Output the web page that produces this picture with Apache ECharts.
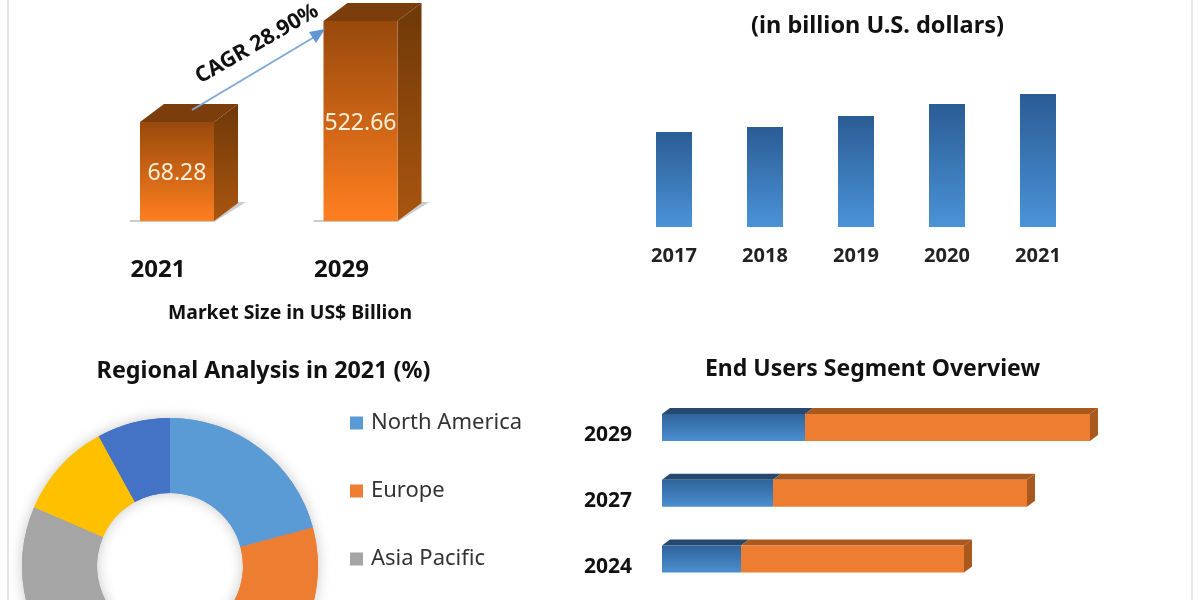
<!DOCTYPE html>
<html>
<head>
<meta charset="utf-8">
<script src="https://cdn.jsdelivr.net/npm/echarts@6/dist/echarts.min.js"></script>
<style>html,body{margin:0;padding:0;background:#fff;overflow:hidden}#c{width:1200px;height:600px}</style>
</head>
<body>
<div id="c"></div>
<script>
var FONT = '"Noto Sans","Open Sans",sans-serif';
var marketYears = ['2021', '2029'];
var marketValues = [68.28, 522.66];
var trendYears = ['2017', '2018', '2019', '2020', '2021'];
var trendValues = [95, 100, 111, 123, 133];
var regionNames = ['North America', 'Europe', 'Asia Pacific', 'Middle East and Africa', 'South America'];
var regionValues = [20.8, 30.7, 30, 10.5, 8];
var regionColors = ['#5B9BD5', '#ED7D31', '#A5A5A5', '#FFC000', '#4472C4'];
var legendNames = ['North America', 'Europe', 'Asia Pacific'];
var endUserYears = ['2029', '2027', '2024'];
var endUserBlue = [143, 111, 79];
var endUserOrange = [285, 254, 223];

function vgrad(a, b) {
  return new echarts.graphic.LinearGradient(0, 0, 0, 1, [{offset: 0, color: a}, {offset: 1, color: b}]);
}
function poly(points, fill) {
  return {type: 'polygon', shape: {points: points}, style: {fill: fill}, silent: true};
}

function renderMarket(params, api) {
  var cat = api.value(0), val = api.value(1);
  var top = api.coord([cat, val]);
  var baseY = params.coordSys.y + params.coordSys.height;
  var w = 74, dx = 24, dy = 18;
  var x0 = top[0] - w / 2, x1 = x0 + w, y0 = top[1];
  return {type: 'group', children: [
    poly([[x0 - 10, baseY + 1], [x1, baseY + 1], [x1 + dx + 8, baseY - dy - 1], [x1 + dx, baseY - dy - 1], [x1, baseY - 1], [x0 - 10, baseY - 1]], '#c9ccd0'),
    poly([[x1, y0], [x1 + dx, y0 - dy], [x1 + dx, baseY - dy], [x1, baseY]], vgrad('#6E3808', '#A9560F')),
    poly([[x0, y0], [x0 + dx, y0 - dy], [x1 + dx, y0 - dy], [x1, y0]], '#7A3D0B'),
    {type: 'rect', shape: {x: x0, y: y0, width: w, height: baseY - y0}, style: {fill: vgrad('#98490C', '#FF7F1F')}, silent: true},
    {type: 'text', style: {x: top[0], y: (y0 + baseY) / 2 + 2, text: marketValues[cat].toFixed(2), align: 'center', verticalAlign: 'middle', fill: '#FFEFD8', font: '23px ' + FONT}, silent: true}
  ]};
}

function renderEndUsers(params, api) {
  var cat = api.value(0), blue = api.value(1), orange = api.value(2);
  var s = api.coord([0, cat]), m = api.coord([blue, cat]), e = api.coord([blue + orange, cat]);
  var h = 27, dx = 8, dy = 6, lift = 8;
  var y0 = s[1] - lift - h / 2, y1 = y0 + h;
  return {type: 'group', children: [
    poly([[e[0], y0], [e[0] + dx, y0 - dy], [e[0] + dx, y1 - dy], [e[0], y1]], '#A9581E'),
    poly([[s[0], y0], [s[0] + dx, y0 - dy], [m[0] + dx, y0 - dy], [m[0], y0]], '#27496F'),
    poly([[m[0], y0], [m[0] + dx, y0 - dy], [e[0] + dx, y0 - dy], [e[0], y0]], '#A9581E'),
    {type: 'rect', shape: {x: s[0], y: y0, width: m[0] - s[0], height: h}, style: {fill: vgrad('#2F639B', '#4B8FD0')}, silent: true},
    {type: 'rect', shape: {x: m[0], y: y0, width: e[0] - m[0], height: h}, style: {fill: '#ED7D31'}, silent: true}
  ]};
}

function titleAt(text, x, y, size) {
  return {text: text, left: x, top: y, padding: 0, textAlign: 'center', textVerticalAlign: 'middle',
    textStyle: {fontSize: size, fontWeight: 'bold', color: '#111', fontFamily: FONT}};
}

var regionData = regionNames.map(function (n, i) { return {name: n, value: regionValues[i]}; });
var chart = echarts.init(document.getElementById('c'), null, {renderer: 'canvas'});
chart.setOption({
  animation: false,
  backgroundColor: '#ffffff',
  textStyle: {fontFamily: FONT},
  title: [
    titleAt('(in billion U.S. dollars)', 877.5, 26, 23.5),
    titleAt('Market Size in US$ Billion', 290, 313, 19.4),
    titleAt('Regional Analysis in 2021 (%)', 263.5, 371, 23.3),
    titleAt('End Users Segment Overview', 872.5, 369, 23)
  ],
  legend: {
    orient: 'vertical', left: 350, top: 412, padding: 0, itemWidth: 13, itemHeight: 13, itemGap: 46, icon: 'rect',
    data: legendNames, textStyle: {fontSize: 22, color: '#333', fontFamily: FONT, padding: [0, 0, 0, 3]}, itemStyle: {borderWidth: 0}
  },
  grid: [
    {left: 85.25, width: 367, top: 21, height: 200},
    {left: 628.5, width: 455, top: 94, height: 133},
    {left: 662, width: 500, top: 402.5, height: 198}
  ],
  xAxis: [
    {gridIndex: 0, type: 'category', data: marketYears, axisLine: {show: false}, axisTick: {show: false},
      axisLabel: {margin: 37, fontSize: 24, fontWeight: 'bold', color: '#111', fontFamily: FONT, padding: [0, 38, 0, 0]}},
    {gridIndex: 1, type: 'category', data: trendYears, axisLine: {show: false}, axisTick: {show: false},
      axisLabel: {margin: 19, fontSize: 20, fontWeight: 'bold', color: '#222', fontFamily: FONT}},
    {gridIndex: 2, type: 'value', min: 0, max: 500, show: false}
  ],
  yAxis: [
    {gridIndex: 0, type: 'log', min: 9.29, max: 522.66, show: false},
    {gridIndex: 1, type: 'value', min: 0, max: 133, show: false},
    {gridIndex: 2, type: 'category', data: endUserYears, inverse: true, axisLine: {show: false}, axisTick: {show: false},
      axisLabel: {margin: 30, fontSize: 21, fontWeight: 'bold', color: '#111', fontFamily: FONT}}
  ],
  series: [
    {type: 'custom', xAxisIndex: 0, yAxisIndex: 0, renderItem: renderMarket, clip: false,
      data: marketValues.map(function (v, i) { return [i, v]; }), encode: {x: 0, y: 1}},
    {type: 'bar', xAxisIndex: 1, yAxisIndex: 1, data: trendValues, barWidth: 36,
      itemStyle: {color: vgrad('#2B5C94', '#4A93D8')}},
    {type: 'custom', xAxisIndex: 2, yAxisIndex: 2, renderItem: renderEndUsers, clip: false,
      data: endUserYears.map(function (y, i) { return [i, endUserBlue[i], endUserOrange[i]]; }), encode: {x: [1, 2], y: 0}},
    {type: 'pie', center: [170, 566], radius: [73, 148], startAngle: 90, clockwise: true, label: {show: false}, labelLine: {show: false},
      silent: true, z: 1,
      itemStyle: {shadowBlur: 14, shadowColor: 'rgba(0,0,0,0.22)'},
      color: regionColors, data: regionData},
    {type: 'pie', center: [170, 566], radius: [73, 148], startAngle: 90, clockwise: true, label: {show: false}, labelLine: {show: false},
      silent: true, z: 2,
      color: regionColors, data: regionData}
  ],
  graphic: [
    {type: 'line', silent: true, z: 100, shape: {x1: 8, y1: 0, x2: 8, y2: 600}, style: {stroke: '#dcdcdc', lineWidth: 1.5}},
    {type: 'line', silent: true, z: 100, shape: {x1: 1192, y1: 0, x2: 1192, y2: 600}, style: {stroke: '#eaeaea', lineWidth: 2}},
    {type: 'line', silent: true, z: 100, shape: {x1: 192, y1: 110, x2: 316, y2: 36}, style: {stroke: '#7FA9D6', lineWidth: 2}},
    {type: 'polygon', silent: true, z: 100, shape: {points: [[325, 29], [309, 32], [316, 43]]}, style: {fill: '#5E97D1'}},
    {type: 'text', silent: true, z: 100, x: 257, y: 44, rotation: 30 * Math.PI / 180, style: {text: 'CAGR 28.90%', align: 'center', verticalAlign: 'middle', fill: '#111', font: 'bold 21.5px ' + FONT}}
  ]
});
</script>
</body>
</html>
